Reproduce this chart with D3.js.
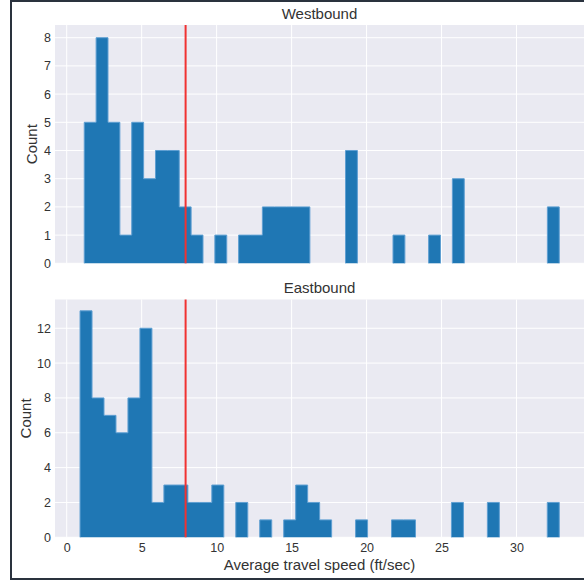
<!DOCTYPE html>
<html>
<head>
<meta charset="utf-8">
<script src="https://cdn.jsdelivr.net/npm/d3@7"></script>
<style>
  body { margin: 0; background: #fff; }
  svg text { font-family: "Liberation Sans", Arial, sans-serif; fill: #333; }
</style>
</head>
<body>
<div id="chart"></div>
<script>
// histogram bins (data units: ft/sec)
const westStart = 1.17;
const westWidth = 0.792;
const westCounts = [5, 8, 5, 1, 5, 3, 4, 4, 2, 1, 0, 1, 0, 1, 1, 2, 2, 2, 2, 0,
                    0, 0, 4, 0, 0, 0, 1, 0, 0, 1, 0, 3, 0, 0, 0, 0, 0, 0, 0, 2];
const eastStart = 0.89;
const eastWidth = 0.799;
const eastCounts = [13, 8, 7, 6, 8, 12, 2, 3, 3, 2, 2, 3, 0, 2, 0, 1, 0, 1, 3, 2,
                    1, 0, 0, 1, 0, 0, 1, 1, 0, 0, 0, 2, 0, 0, 2, 0, 0, 0, 0, 2];
const threshold = 7.93;
const xTicks = [0, 5, 10, 15, 20, 25, 30];
const westYTicks = [0, 1, 2, 3, 4, 5, 6, 7, 8];
const eastYTicks = [0, 2, 4, 6, 8, 10, 12];

const W = 584, H = 581;
const left = 55, right = 584;

const svg = d3.select('#chart').append('svg')
  .attr('width', W)
  .attr('height', H);

const x = d3.scaleLinear().domain([-0.78, 34.5]).range([left, right]);

function drawPanel(cfg) {
  const y = d3.scaleLinear().domain([0, cfg.yMax]).range([cfg.bottom, cfg.top]);
  const g = svg.append('g');

  g.append('rect')
    .attr('x', left).attr('y', cfg.top)
    .attr('width', right - left).attr('height', cfg.bottom - cfg.top)
    .attr('fill', '#eaeaf2');

  // grid
  g.selectAll('.vg').data(xTicks).enter().append('line')
    .attr('x1', d => x(d)).attr('x2', d => x(d))
    .attr('y1', cfg.top).attr('y2', cfg.bottom)
    .attr('stroke', '#fff').attr('stroke-width', 1);
  g.selectAll('.hg').data(cfg.yTicks).enter().append('line')
    .attr('x1', left).attr('x2', right)
    .attr('y1', d => y(d)).attr('y2', d => y(d))
    .attr('stroke', '#fff').attr('stroke-width', 1);

  // group bins into runs of non-empty bins, each drawn as one step shape
  const runs = [];
  let cur = null;
  cfg.counts.forEach((c, i) => {
    const x0 = cfg.start + i * cfg.width;
    if (c > 0) {
      if (!cur) { cur = [[x0, 0]]; runs.push(cur); }
      cur.push([x0, c], [x0 + cfg.width, c]);
    } else if (cur) {
      cur.push([x0, 0]);
      cur = null;
    }
  });
  if (cur) cur.push([cfg.start + cfg.counts.length * cfg.width, 0]);

  const line = d3.line().x(d => x(d[0])).y(d => y(d[1]));
  g.selectAll('.run').data(runs).enter().append('path')
    .attr('d', d => line(d))
    .attr('fill', '#1f77b4')
    .attr('stroke', '#5f9fd2')
    .attr('stroke-width', 1);

  // threshold line
  g.append('line')
    .attr('x1', x(threshold)).attr('x2', x(threshold))
    .attr('y1', cfg.top).attr('y2', cfg.bottom)
    .attr('stroke', '#f03232').attr('stroke-width', 2);

  // y axis labels
  const yAxis = d3.axisLeft(y).tickValues(cfg.yTicks).tickSize(0).tickPadding(4);
  const ya = g.append('g').attr('transform', `translate(${left},0)`).call(yAxis);
  ya.select('.domain').remove();
  ya.selectAll('text').style('font-size', '12.5px').attr('fill', '#333')
    .style('font-family', '"Liberation Sans", Arial, sans-serif');

  if (cfg.showX) {
    const xAxis = d3.axisBottom(x).tickValues(xTicks).tickSize(0).tickPadding(5.5);
    const xa = g.append('g').attr('transform', `translate(0,${cfg.bottom})`).call(xAxis);
    xa.select('.domain').remove();
    xa.selectAll('text').style('font-size', '12.5px').attr('fill', '#333')
      .style('font-family', '"Liberation Sans", Arial, sans-serif');
    g.append('text')
      .attr('x', (left + right) / 2).attr('y', cfg.bottom + 33)
      .attr('text-anchor', 'middle').style('font-size', '15px')
      .text('Average travel speed (ft/sec)');
  }

  g.append('text')
    .attr('x', (left + right) / 2).attr('y', cfg.top - 6.5)
    .attr('text-anchor', 'middle').style('font-size', '15px')
    .text(cfg.title);

  g.append('text')
    .attr('transform', `translate(${cfg.labelX},${(cfg.top + cfg.bottom) / 2}) rotate(-90)`)
    .attr('text-anchor', 'middle').style('font-size', '15px')
    .text('Count');
}

drawPanel({ title: 'Westbound', top: 25, bottom: 263.3, yMax: 8.45, yTicks: westYTicks,
  counts: westCounts, start: westStart, width: westWidth, labelX: 37, showX: false });
drawPanel({ title: 'Eastbound', top: 299.5, bottom: 537.3, yMax: 13.65, yTicks: eastYTicks,
  counts: eastCounts, start: eastStart, width: eastWidth, labelX: 31, showX: true });

// figure frame
svg.append('path')
  .attr('d', `M${W + 5},1 L11,1 L11,579 L${W + 5},579`)
  .attr('fill', 'none').attr('stroke', '#2a323e').attr('stroke-width', 2);
</script>
</body>
</html>
